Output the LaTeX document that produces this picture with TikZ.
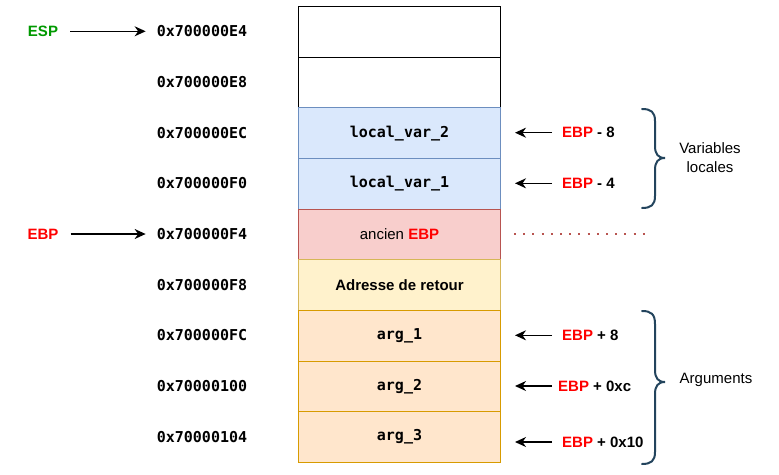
\documentclass[tikz,border=0pt]{standalone}
\usepackage{fontspec}
\setmainfont{Liberation Sans}
\setmonofont{DejaVu Sans Mono}
\usetikzlibrary{arrows.meta}
\definecolor{espgreen}{HTML}{009900}
\definecolor{ebpred}{HTML}{FF0000}
\definecolor{bluefill}{HTML}{DAE8FC}\definecolor{bluedraw}{HTML}{6C8EBF}
\definecolor{redfill}{HTML}{F8CECC}\definecolor{reddraw}{HTML}{B85450}
\definecolor{yelfill}{HTML}{FFF2CC}\definecolor{yeldraw}{HTML}{D6B656}
\definecolor{orafill}{HTML}{FFE6CC}\definecolor{oradraw}{HTML}{D79B00}
\definecolor{bracecol}{HTML}{23445D}
\newcommand{\ebp}{\textcolor{ebpred}{EBP}}
\begin{document}
\begin{tikzpicture}[x=1pt,y=-1pt,
  every node/.style={font=\fontsize{15}{18}\selectfont, inner sep=0pt},
  cell/.style={draw, line width=1pt, minimum width=202pt, minimum height=50.67pt, anchor=north west},
  addr/.style={font=\fontsize{15}{18}\selectfont\ttfamily\bfseries},
  ptr/.style={line width=1.4pt, -{Stealth[length=11pt,width=10pt,inset=3.5pt]}},
  brace/.style={draw=bracecol, line width=2pt, line cap=round},
  lbl/.style={font=\fontsize{15}{18}\selectfont\bfseries, anchor=west}]
\useasboundingbox (0,0) rectangle (779,474);

% stack cells, top to bottom
\node[cell, fill=white] (c1) at (298,6) {};
\node[cell, fill=white] (c2) at (298,56.67) {};
\node[cell, fill=bluefill, draw=bluedraw] (c3) at (298,107.33) {\ttfamily\bfseries local\_var\_2};
\node[cell, fill=bluefill, draw=bluedraw] (c4) at (298,158) {\ttfamily\bfseries local\_var\_1};
\node[cell, fill=redfill, draw=reddraw] (c5) at (298,208.67) {ancien \textbf{\ebp}};
\node[cell, fill=yelfill, draw=yeldraw] (c6) at (298,259.33) {\bfseries Adresse de retour};
\node[cell, fill=orafill, draw=oradraw] (c7) at (298,310) {\ttfamily\bfseries arg\_1};
\node[cell, fill=orafill, draw=oradraw] (c8) at (298,360.67) {\ttfamily\bfseries arg\_2};
\node[cell, fill=orafill, draw=oradraw] (c9) at (298,411.33) {\ttfamily\bfseries arg\_3};

% addresses
\node[addr] (a1) at (202,31.3) {0x700000E4};
\node[addr] (a2) at (202,82) {0x700000E8};
\node[addr] (a3) at (202,132.7) {0x700000EC};
\node[addr] (a4) at (202,183.3) {0x700000F0};
\node[addr] (a5) at (202,234) {0x700000F4};
\node[addr] (a6) at (202,284.7) {0x700000F8};
\node[addr] (a7) at (202,335.3) {0x700000FC};
\node[addr] (a8) at (202,386) {0x70000100};
\node[addr] (a9) at (202,436.7) {0x70000104};

% register pointers on the left
\node[font=\fontsize{15}{18}\selectfont\bfseries, text=espgreen] (esp) at (43,31.3) {ESP};
\node[font=\fontsize{15}{18}\selectfont\bfseries, text=ebpred] (ebpl) at (43,234) {EBP};
\draw[ptr, shorten <=12pt, shorten >=11pt] (esp.east) -- (a1.west);
\draw[ptr, shorten <=12pt, shorten >=11pt] (ebpl.east) -- (a5.west);

% offsets relative to EBP
\node[lbl] (o1) at (562,132.7) {\ebp{} - 8};
\node[lbl] (o2) at (562,183.3) {\ebp{} - 4};
\node[lbl] (o3) at (562,335.3) {\ebp{} + 8};
\node[lbl] (o4) at (558,386) {\ebp{} + 0xc};
\node[lbl] (o5) at (562,442) {\ebp{} + 0x10};
\draw[ptr, shorten <=10pt, shorten >=14pt] (o1.west) -- (o1.west -| c3.east);
\draw[ptr, shorten <=10pt, shorten >=14pt] (o2.west) -- (o2.west -| c4.east);
\draw[ptr, shorten <=10pt, shorten >=14pt] (o3.west) -- (o3.west -| c7.east);
\draw[ptr, shorten <=6pt, shorten >=14pt] (o4.west) -- (o4.west -| c8.east);
\draw[ptr, shorten <=10pt, shorten >=14pt] (o5.west) -- (o5.west -| c9.east);

% dotted level of the saved EBP
\coordinate (d0) at (514,234);
\coordinate (d1) at (650,234);
\draw[reddraw, line width=2pt, dash pattern=on 2pt off 7.2pt] (d0) -- (d1);

% braces
\draw[brace] (642,109) .. controls (651,109) and (655,112) .. (655,121)
  -- (655,146) .. controls (655,154) and (658,158) .. (665,158)
  .. controls (658,158) and (655,162) .. (655,170)
  -- (655,196) .. controls (655,205) and (651,208) .. (642,208);
\draw[brace] (642,311) .. controls (651,311) and (655,314) .. (655,324)
  -- (655,370) .. controls (655,378) and (658,382) .. (665,382)
  .. controls (658,382) and (655,386) .. (655,394)
  -- (655,452) .. controls (655,461) and (651,464) .. (642,464);

\node[align=center, font=\fontsize{15}{19}\selectfont] (vl) at (710,158) {Variables\\locales};
\node (ar) at (716,380) {Arguments};
\end{tikzpicture}
\end{document}
